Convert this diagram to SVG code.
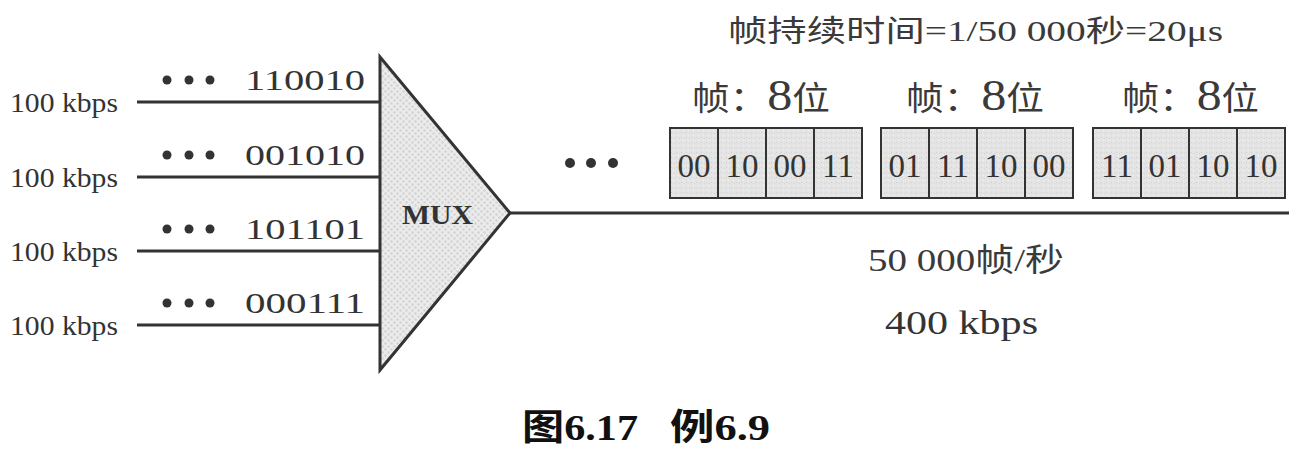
<svg xmlns="http://www.w3.org/2000/svg" width="1298" height="453" viewBox="0 0 1298 453">
  <defs>
    <pattern id="dots" width="6" height="6" patternUnits="userSpaceOnUse">
      <rect width="6" height="6" fill="#ebebeb"/>
      <circle cx="1.5" cy="1.5" r="1.2" fill="#d2d2d2"/>
      <circle cx="4.5" cy="4.5" r="1.2" fill="#d2d2d2"/>
    </pattern>
    <pattern id="grain" width="5" height="5" patternUnits="userSpaceOnUse">
      <rect width="5" height="5" fill="#e4e4e4"/>
      <rect x="1" y="2" width="1" height="1" fill="#cfcfcf"/>
      <rect x="3" y="0" width="1" height="1" fill="#f2f2f2"/>
      <rect x="4" y="3" width="1" height="1" fill="#d6d6d6"/>
    </pattern>
  </defs>
  <style>
    .ln { stroke: #333; stroke-width: 3; fill: none; }
    .lbl { font-family: "Liberation Serif", "Noto Sans CJK SC", serif; fill: #333; }
    .rate { font-size: 27px; }
    .bits { font-size: 29px; }
    .dot { fill: #333; }
    .cell { fill: url(#grain); stroke: #333; stroke-width: 2; }
    .ct { font-size: 33px; text-anchor: middle; }
    .cjk { font-family: "Liberation Serif", "Noto Sans CJK SC", serif; fill: #3a3a3a; }
  </style>
  <rect width="1298" height="453" fill="#ffffff"/>

  <g id="connectors">
    <line class="ln" x1="137" y1="102" x2="380" y2="102"/>
    <line class="ln" x1="137" y1="177" x2="380" y2="177"/>
    <line class="ln" x1="137" y1="251" x2="380" y2="251"/>
    <line class="ln" x1="137" y1="325" x2="380" y2="325"/>
    <line class="ln" x1="510" y1="213" x2="1289" y2="213"/>
  </g>

  <g id="input1">
    <text class="lbl rate" x="10" y="112" textLength="108" lengthAdjust="spacingAndGlyphs">100 kbps</text>
    <circle class="dot" cx="167" cy="80" r="4.5"/><circle class="dot" cx="189" cy="80" r="4.5"/><circle class="dot" cx="210" cy="80" r="4.5"/>
    <text class="lbl bits" x="245" y="90" textLength="120" lengthAdjust="spacingAndGlyphs">110010</text>
  </g>
  <g id="input2">
    <text class="lbl rate" x="10" y="187" textLength="108" lengthAdjust="spacingAndGlyphs">100 kbps</text>
    <circle class="dot" cx="167" cy="155" r="4.5"/><circle class="dot" cx="189" cy="155" r="4.5"/><circle class="dot" cx="210" cy="155" r="4.5"/>
    <text class="lbl bits" x="245" y="165" textLength="120" lengthAdjust="spacingAndGlyphs">001010</text>
  </g>
  <g id="input3">
    <text class="lbl rate" x="10" y="261" textLength="108" lengthAdjust="spacingAndGlyphs">100 kbps</text>
    <circle class="dot" cx="167" cy="229" r="4.5"/><circle class="dot" cx="189" cy="229" r="4.5"/><circle class="dot" cx="210" cy="229" r="4.5"/>
    <text class="lbl bits" x="245" y="239" textLength="120" lengthAdjust="spacingAndGlyphs">101101</text>
  </g>
  <g id="input4">
    <text class="lbl rate" x="10" y="335" textLength="108" lengthAdjust="spacingAndGlyphs">100 kbps</text>
    <circle class="dot" cx="167" cy="303" r="4.5"/><circle class="dot" cx="189" cy="303" r="4.5"/><circle class="dot" cx="210" cy="303" r="4.5"/>
    <text class="lbl bits" x="245" y="313" textLength="120" lengthAdjust="spacingAndGlyphs">000111</text>
  </g>

  <g id="mux">
    <polygon points="380,57 510,213 380,370" fill="url(#dots)" stroke="#333" stroke-width="3" stroke-linejoin="miter"/>
    <text class="lbl" x="402" y="224" font-size="27" font-weight="bold" textLength="71" lengthAdjust="spacingAndGlyphs">MUX</text>
  </g>

  <g id="ellipsis">
    <circle class="dot" cx="570" cy="163" r="5"/><circle class="dot" cx="591" cy="163" r="5"/><circle class="dot" cx="613" cy="163" r="5"/>
  </g>

  <g id="title">
    <text class="cjk" x="728" y="41" font-size="30" textLength="495" lengthAdjust="spacingAndGlyphs">帧持续时间=1/50 000秒=20μs</text>
  </g>

  <g id="frame1">
    <text class="cjk" x="692" y="110" font-size="33" textLength="138" lengthAdjust="spacingAndGlyphs">帧：<tspan font-size="44">8</tspan>位</text>
    <rect class="cell" x="670" y="128" width="48" height="70"/>
    <rect class="cell" x="718" y="128" width="48" height="70"/>
    <rect class="cell" x="766" y="128" width="48" height="70"/>
    <rect class="cell" x="814" y="128" width="48" height="70"/>
    <text class="lbl ct" x="694" y="177">00</text>
    <text class="lbl ct" x="742" y="177">10</text>
    <text class="lbl ct" x="790" y="177">00</text>
    <text class="lbl ct" x="838" y="177">11</text>
  </g>
  <g id="frame2">
    <text class="cjk" x="906" y="110" font-size="33" textLength="138" lengthAdjust="spacingAndGlyphs">帧：<tspan font-size="44">8</tspan>位</text>
    <rect class="cell" x="881" y="128" width="48" height="70"/>
    <rect class="cell" x="929" y="128" width="48" height="70"/>
    <rect class="cell" x="977" y="128" width="48" height="70"/>
    <rect class="cell" x="1025" y="128" width="48" height="70"/>
    <text class="lbl ct" x="905" y="177">01</text>
    <text class="lbl ct" x="953" y="177">11</text>
    <text class="lbl ct" x="1001" y="177">10</text>
    <text class="lbl ct" x="1049" y="177">00</text>
  </g>
  <g id="frame3">
    <text class="cjk" x="1122" y="110" font-size="33" textLength="137" lengthAdjust="spacingAndGlyphs">帧：<tspan font-size="44">8</tspan>位</text>
    <rect class="cell" x="1093" y="128" width="48" height="70"/>
    <rect class="cell" x="1141" y="128" width="48" height="70"/>
    <rect class="cell" x="1189" y="128" width="48" height="70"/>
    <rect class="cell" x="1237" y="128" width="48" height="70"/>
    <text class="lbl ct" x="1117" y="177">11</text>
    <text class="lbl ct" x="1165" y="177">01</text>
    <text class="lbl ct" x="1213" y="177">10</text>
    <text class="lbl ct" x="1261" y="177">10</text>
  </g>

  <g id="output-labels">
    <text class="cjk" x="868" y="271" font-size="32" textLength="196" lengthAdjust="spacingAndGlyphs">50 000帧/秒</text>
    <text class="lbl" x="885" y="334" font-size="33" textLength="153" lengthAdjust="spacingAndGlyphs">400 kbps</text>
  </g>

  <g id="caption" font-family="'Liberation Serif', 'Noto Sans CJK SC', serif" font-size="36" font-weight="bold" fill="#111">
    <text x="522" y="440" textLength="116" lengthAdjust="spacingAndGlyphs">图6.17</text>
    <text x="670" y="440" textLength="100" lengthAdjust="spacingAndGlyphs">例6.9</text>
  </g>
</svg>
